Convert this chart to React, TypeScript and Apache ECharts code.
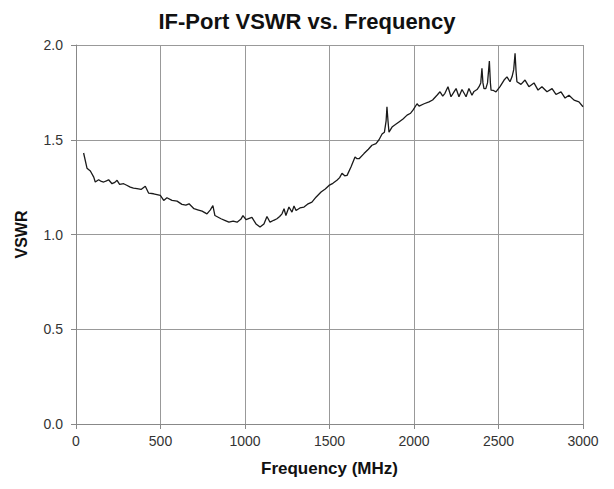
import React, { useEffect, useRef } from "react";
import * as echarts from "echarts";

const title = "IF-Port VSWR vs. Frequency";
const xName = "Frequency (MHz)";
const yName = "VSWR";

const freqMHz = [
  45, 65, 85, 105, 114, 134, 150, 164, 180, 193, 213, 230, 243, 258, 282, 300, 321, 340, 361, 385,
  410, 430, 459, 499, 519, 538, 568, 598, 627, 650, 669, 698, 720, 746, 775, 795, 810, 822, 858, 880,
  905, 930, 953, 975, 988, 1006, 1025, 1041, 1065, 1089, 1112, 1130, 1148, 1170, 1189, 1205, 1219, 1231, 1242, 1260,
  1278, 1290, 1302, 1325, 1349, 1370, 1396, 1420, 1450, 1475, 1497, 1520, 1544, 1560, 1574, 1590, 1604, 1627, 1651, 1663,
  1675, 1704, 1730, 1751, 1775, 1793, 1811, 1825, 1835, 1840, 1846, 1852, 1870, 1890, 1911, 1935, 1959, 1980, 1994, 2018,
  2030, 2060, 2089, 2110, 2136, 2154, 2170, 2183, 2201, 2219, 2235, 2249, 2266, 2284, 2300, 2308, 2325, 2343, 2355, 2373,
  2385, 2395, 2402, 2408, 2414, 2425, 2435, 2446, 2452, 2456, 2470, 2485, 2509, 2533, 2550, 2568, 2580, 2590, 2598, 2604,
  2609, 2633, 2657, 2680, 2710, 2734, 2757, 2787, 2817, 2840, 2870, 2894, 2917, 2947, 2976, 3000,
];

const vswr = [
  1.43, 1.35, 1.335, 1.303, 1.277, 1.289, 1.28, 1.277, 1.283, 1.289, 1.268, 1.275, 1.286, 1.265, 1.268, 1.26, 1.25, 1.245, 1.242, 1.238,
  1.255, 1.218, 1.215, 1.206, 1.18, 1.194, 1.18, 1.176, 1.159, 1.155, 1.162, 1.136, 1.13, 1.123, 1.109, 1.13, 1.153, 1.1, 1.083, 1.075,
  1.065, 1.07, 1.065, 1.08, 1.1, 1.078, 1.085, 1.09, 1.056, 1.039, 1.056, 1.095, 1.065, 1.075, 1.083, 1.095, 1.109, 1.136, 1.1, 1.145,
  1.118, 1.15, 1.127, 1.14, 1.145, 1.16, 1.171, 1.197, 1.224, 1.24, 1.259, 1.27, 1.286, 1.3, 1.323, 1.31, 1.312, 1.356, 1.409, 1.4,
  1.4, 1.427, 1.45, 1.471, 1.48, 1.5, 1.53, 1.54, 1.6, 1.674, 1.6, 1.54, 1.567, 1.58, 1.594, 1.61, 1.63, 1.64, 1.656, 1.69,
  1.677, 1.69, 1.7, 1.71, 1.735, 1.753, 1.73, 1.745, 1.78, 1.727, 1.75, 1.77, 1.727, 1.765, 1.74, 1.727, 1.77, 1.735, 1.755, 1.765,
  1.78, 1.8, 1.877, 1.8, 1.77, 1.77, 1.8, 1.915, 1.8, 1.762, 1.76, 1.753, 1.78, 1.815, 1.832, 1.806, 1.832, 1.87, 1.956, 1.86,
  1.806, 1.792, 1.815, 1.78, 1.8, 1.762, 1.78, 1.753, 1.77, 1.739, 1.753, 1.72, 1.735, 1.709, 1.7, 1.674,
];

const FONT = "'Liberation Sans', Arial, sans-serif";

export default function App() {
  const ref = useRef<HTMLDivElement>(null);
  useEffect(() => {
    if (!ref.current) return;
    const chart = echarts.init(ref.current, undefined, { renderer: "svg" });
    const data = freqMHz.map((f, i) => [f, vswr[i]]);
    chart.setOption({
      animation: false,
      backgroundColor: "#ffffff",
      title: {
        text: title,
        left: "center",
        top: 5,
        textStyle: { fontFamily: FONT, fontSize: 22, fontWeight: "bold", color: "#111" },
      },
      grid: { left: 76, right: 31, top: 45, bottom: 65, show: false },
      xAxis: {
        type: "value",
        min: 0,
        max: 3000,
        interval: 500,
        name: xName,
        nameLocation: "middle",
        nameGap: 36,
        nameTextStyle: { fontFamily: FONT, fontSize: 17, fontWeight: "bold", color: "#111" },
        axisLine: { show: true, lineStyle: { color: "#888", width: 1 } },
        axisTick: { show: true, length: 5, lineStyle: { color: "#888" } },
        axisLabel: {
          fontFamily: FONT,
          fontSize: 14,
          color: "#333",
          margin: 10,
          formatter: (v: number) => String(v),
        },
        splitLine: { show: true, lineStyle: { color: "#999", width: 1 } },
      },
      yAxis: {
        type: "value",
        min: 0,
        max: 2,
        interval: 0.5,
        name: yName,
        nameLocation: "middle",
        nameGap: 47,
        nameRotate: 90,
        nameTextStyle: { fontFamily: FONT, fontSize: 16, fontWeight: "bold", color: "#111" },
        axisLine: { show: true, lineStyle: { color: "#888", width: 1 } },
        axisTick: { show: true, length: 5, lineStyle: { color: "#888" } },
        axisLabel: {
          fontFamily: FONT,
          fontSize: 14,
          color: "#333",
          margin: 13,
          formatter: (v: number) => v.toFixed(1),
        },
        splitLine: { show: true, lineStyle: { color: "#999", width: 1 } },
      },
      series: [
        {
          type: "line",
          data,
          showSymbol: false,
          symbol: "none",
          lineStyle: { color: "#1a1a1a", width: 1.3 },
        },
      ],
    });
    return () => chart.dispose();
  }, []);
  return (
    <div
      ref={ref}
      style={{ position: "fixed", left: 0, top: 0, width: 614, height: 489 }}
    />
  );
}
